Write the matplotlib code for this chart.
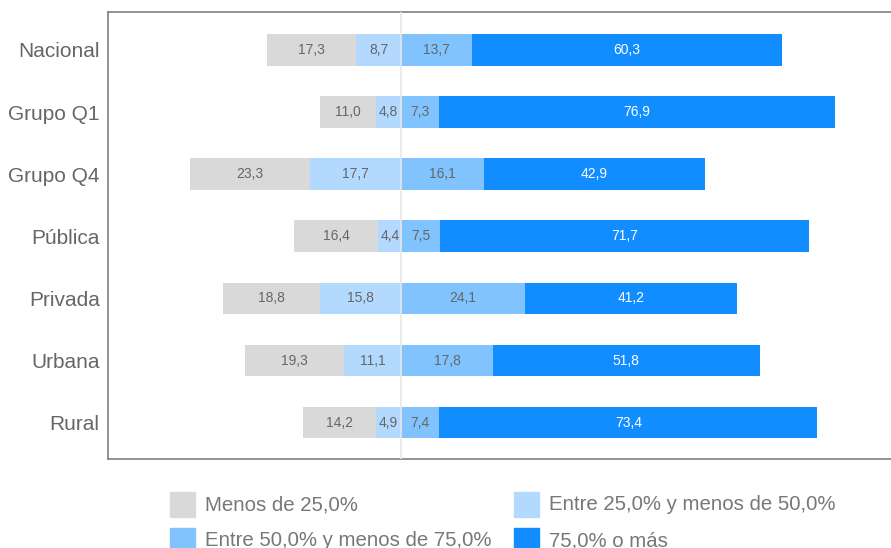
import matplotlib
matplotlib.use("Agg")
import matplotlib.pyplot as plt
from matplotlib.patches import Rectangle
import numpy as np

plt.rcParams['font.family'] = ['Liberation Sans', 'DejaVu Sans']

categories = ["Nacional", "Grupo Q1", "Grupo Q4", "Pública", "Privada", "Urbana", "Rural"]
menos_25 = [17.3, 11.0, 23.3, 16.4, 18.8, 19.3, 14.2]
entre_25_50 = [8.7, 4.8, 17.7, 4.4, 15.8, 11.1, 4.9]
entre_50_75 = [13.7, 7.3, 16.1, 7.5, 24.1, 17.8, 7.4]
mas_75 = [60.3, 76.9, 42.9, 71.7, 41.2, 51.8, 73.4]

series_labels = ["Menos de 25,0%", "Entre 25,0% y menos de 50,0%",
                 "Entre 50,0% y menos de 75,0%", "75,0% o más"]
colors = ["#d9d9d9", "#b3d9ff", "#80c3ff", "#118dff"]
text_colors = ["#666666", "#666666", "#666666", "#ffffff"]

fig = plt.figure(figsize=(8.91, 5.48), dpi=100)
top_px, bot_px = 12.3, 459.3
ax = fig.add_axes([108/891, 1 - bot_px/548, 1 - 108/891, (bot_px - top_px)/548])

y = np.arange(len(categories))
h = 0.51
m25 = np.array(menos_25); e25 = np.array(entre_25_50)
e50 = np.array(entre_50_75); m75 = np.array(mas_75)

segments = [
    (m25, -(e25 + m25)),
    (e25, -e25),
    (e50, np.zeros_like(e50)),
    (m75, e50),
]
for i, (w, left) in enumerate(segments):
    ax.barh(y, w, left=left, height=h, color=colors[i], zorder=2)
    for yy, ww, ll in zip(y, w, left):
        ax.text(ll + ww/2, yy, f"{ww:.1f}".replace(".", ","), ha="center", va="center",
                fontsize=10, color=text_colors[i], zorder=4)

ax.axvline(0, color="#e6e6e6", lw=1.2, zorder=3)
ax.set_xlim(-56.9, 95.1)
ax.set_ylim(len(categories) - 1 + 0.59, -0.605)
ax.set_yticks(y)
ax.set_yticklabels(categories, fontsize=15, color="#666666")
ax.tick_params(axis="y", length=0, pad=6)
ax.set_xticks([])
for s in ["left", "top", "bottom"]:
    ax.spines[s].set_color("#808080")
    ax.spines[s].set_linewidth(1.2)
ax.spines["right"].set_visible(False)

# legend
leg_pos = [(170, 504), (514, 504), (170, 540), (514, 540)]
for (px, py), lab, col in zip(leg_pos, series_labels, colors):
    fig.patches.append(Rectangle((px/891, 1 - (py + 12.5)/548), 25/891, 25/548,
                                 transform=fig.transFigure, color=col))
    fig.text((px + 35)/891, 1 - (py + 1)/548, lab, fontsize=14.7, color="#777777",
             va="center", ha="left")

fig.savefig("out.png", dpi=100)
